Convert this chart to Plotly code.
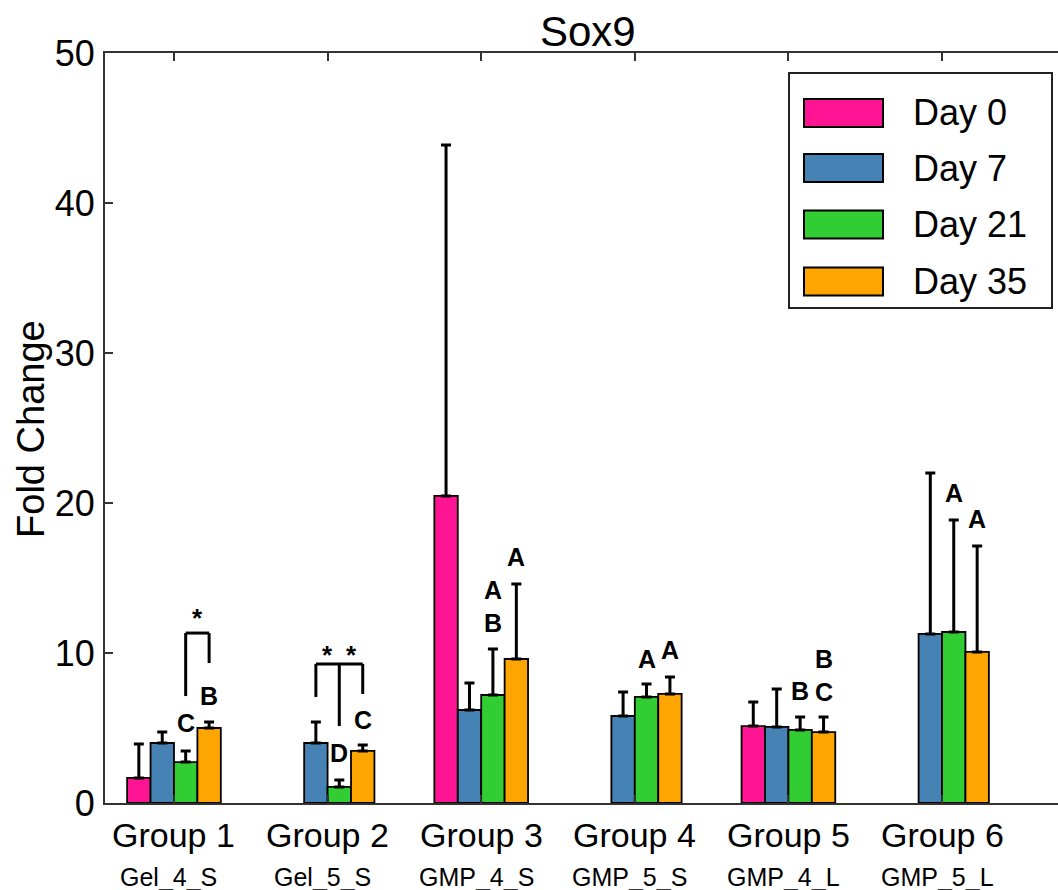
import plotly.graph_objects as go

# ---------------- data ----------------
groups = ["Group 1", "Group 2", "Group 3", "Group 4", "Group 5", "Group 6"]
subtitles = ["Gel_4_S", "Gel_5_S", "GMP_4_S", "GMP_5_S", "GMP_4_L", "GMP_5_L"]
series_names = ["Day 0", "Day 7", "Day 21", "Day 35"]
series_colors = ["#FF1493", "#4682B4", "#32CD32", "#FFA500"]

day0 = [1.67, None, 20.47, None, 5.13, None]
day7 = [4.0, 4.0, 6.2, 5.8, 5.07, 11.27]
day21 = [2.73, 1.07, 7.2, 7.07, 4.87, 11.4]
day35 = [5.0, 3.47, 9.6, 7.27, 4.73, 10.07]

day0_err = [2.26, None, 23.4, None, 1.6, None]
day7_err = [0.73, 1.4, 1.8, 1.6, 2.53, 10.73]
day21_err = [0.74, 0.46, 3.07, 0.86, 0.86, 7.47]
day35_err = [0.4, 0.4, 5.0, 1.13, 1.0, 7.06]

# significance letters: (group index, series index, text, y)
letter_groups = [0, 0, 1, 1, 2, 2, 3, 3, 4, 4, 5, 5]
letter_series = [2, 3, 2, 3, 2, 3, 2, 3, 2, 3, 2, 3]
letter_text = ["C", "B", "D", "C", "A<br>B", "A", "A", "A", "B", "B<br>C", "A", "A"]
letter_y = [5.33, 7.13, 3.33, 5.53, 13.07, 16.4, 9.6, 10.2, 7.47, 8.53, 20.67, 18.93]

# brackets: group, list of (series, leg bottom), top, star y
bracket_group = [0, 1]
bracket_legs = [[(2, 7.13), (3, 9.33)], [(1, 7.07), (2, 5.13), (3, 7.27)]]
bracket_top = [11.33, 9.27]
star_y = [12.35, 9.85]

y_range = [0, 50]
y_ticks = [0, 10, 20, 30, 40, 50]

values = [day0, day7, day21, day35]
errors = [day0_err, day7_err, day21_err, day35_err]

# ---------------- figure ----------------
FONT = "Liberation Sans, Arial, sans-serif"
bargap = 0.39
bw = (1 - bargap) / 4
xpos = list(range(1, len(groups) + 1))

def bar_x(g, s):
    return xpos[g] + (s - 1.5) * bw

fig = go.Figure()
for name, col, vals, errs in zip(series_names, series_colors, values, errors):
    fig.add_trace(go.Bar(
        x=xpos, y=vals, name=name,
        marker=dict(color=col, line=dict(color="black", width=1.8)),
        error_y=dict(type="data", symmetric=False, array=errs,
                     arrayminus=[0 if v is not None else None for v in vals],
                     color="black", thickness=3, width=5),
        showlegend=False,
    ))

annotations = []
shapes = []

# letters
for g, s, t, y in zip(letter_groups, letter_series, letter_text, letter_y):
    annotations.append(dict(x=bar_x(g, s), y=y, xref="x", yref="y", text="<b>%s</b>" % t,
                            showarrow=False, font=dict(family=FONT, size=25, color="black"),
                            xanchor="center", yanchor="middle"))

# brackets
for g, legs, top, sy in zip(bracket_group, bracket_legs, bracket_top, star_y):
    xs = [bar_x(g, s) for s, _ in legs]
    shapes.append(dict(type="line", xref="x", yref="y", x0=xs[0], x1=xs[-1], y0=top, y1=top,
                       line=dict(color="black", width=3)))
    for (s, bot), x in zip(legs, xs):
        shapes.append(dict(type="line", xref="x", yref="y", x0=x, x1=x, y0=bot, y1=top,
                           line=dict(color="black", width=3)))
    for a, b in zip(xs[:-1], xs[1:]):
        annotations.append(dict(x=(a + b) / 2, y=sy, xref="x", yref="y", text="<b>*</b>",
                                showarrow=False, font=dict(family=FONT, size=26, color="black"),
                                xanchor="center", yanchor="middle"))

# group labels
for x, gname, sub in zip(xpos, groups, subtitles):
    annotations.append(dict(x=x, y=-0.0427, xref="x", yref="paper", text=gname, showarrow=False,
                            font=dict(family=FONT, size=34, color="black"),
                            xanchor="center", yanchor="middle"))
    annotations.append(dict(x=x, y=-0.0987, xref="x", yref="paper", text=sub, showarrow=False,
                            xshift=-5,
                            font=dict(family=FONT, size=25, color="black"),
                            xanchor="center", yanchor="middle"))

# title and y title
annotations.append(dict(x=0.5068, y=1.029, xref="paper", yref="paper", text="Sox9", showarrow=False,
                        font=dict(family=FONT, size=42, color="black"), xanchor="center", yanchor="middle"))
annotations.append(dict(x=-0.0777, y=0.4987, xref="paper", yref="paper", text="Fold Change",
                        showarrow=False, textangle=-90,
                        font=dict(family=FONT, size=38, color="black"), xanchor="center", yanchor="middle"))

# custom legend
L, PW, PH, B = 105, 953, 750, 803
def px(xp):
    return (xp - L) / PW
def py(yp):
    return (B - yp) / PH
shapes.append(dict(type="rect", xref="paper", yref="paper", x0=px(789), x1=px(1052), y0=py(308), y1=py(73),
                   line=dict(color="#222", width=2), fillcolor="white"))
row_y = [113, 168, 224.5, 281.5]
for name, col, ry in zip(series_names, series_colors, row_y):
    shapes.append(dict(type="rect", xref="paper", yref="paper", x0=px(804), x1=px(883),
                       y0=py(ry + 14), y1=py(ry - 14), line=dict(color="black", width=2), fillcolor=col))
    annotations.append(dict(x=px(911), y=py(ry), xref="paper", yref="paper", text=name, showarrow=False,
                            font=dict(family=FONT, size=36, color="black"), xanchor="left", yanchor="middle"))

fig.update_layout(
    width=1058, height=890,
    margin=dict(l=L, r=0, t=53, b=87),
    paper_bgcolor="white", plot_bgcolor="white",
    barmode="group", bargap=bargap, bargroupgap=0,
    annotations=annotations, shapes=shapes,
    showlegend=False,
    font=dict(family=FONT, color="black"),
)
fig.update_xaxes(range=[0.551, 6.755], tickvals=xpos, showticklabels=False,
                 ticks="inside", ticklen=8, tickwidth=1.5, tickcolor="#333",
                 showline=True, linecolor="#333", linewidth=2, mirror="ticks",
                 showgrid=False, zeroline=False)
fig.update_yaxes(range=y_range, tickvals=y_ticks, ticks="inside", ticklen=8, tickwidth=1.5, tickcolor="#333",
                 showline=True, linecolor="#333", linewidth=2, mirror=False,
                 showgrid=False, zeroline=False, ticklabelstandoff=1,
                 tickfont=dict(family=FONT, size=36, color="black"))

fig.write_html("out.html")
